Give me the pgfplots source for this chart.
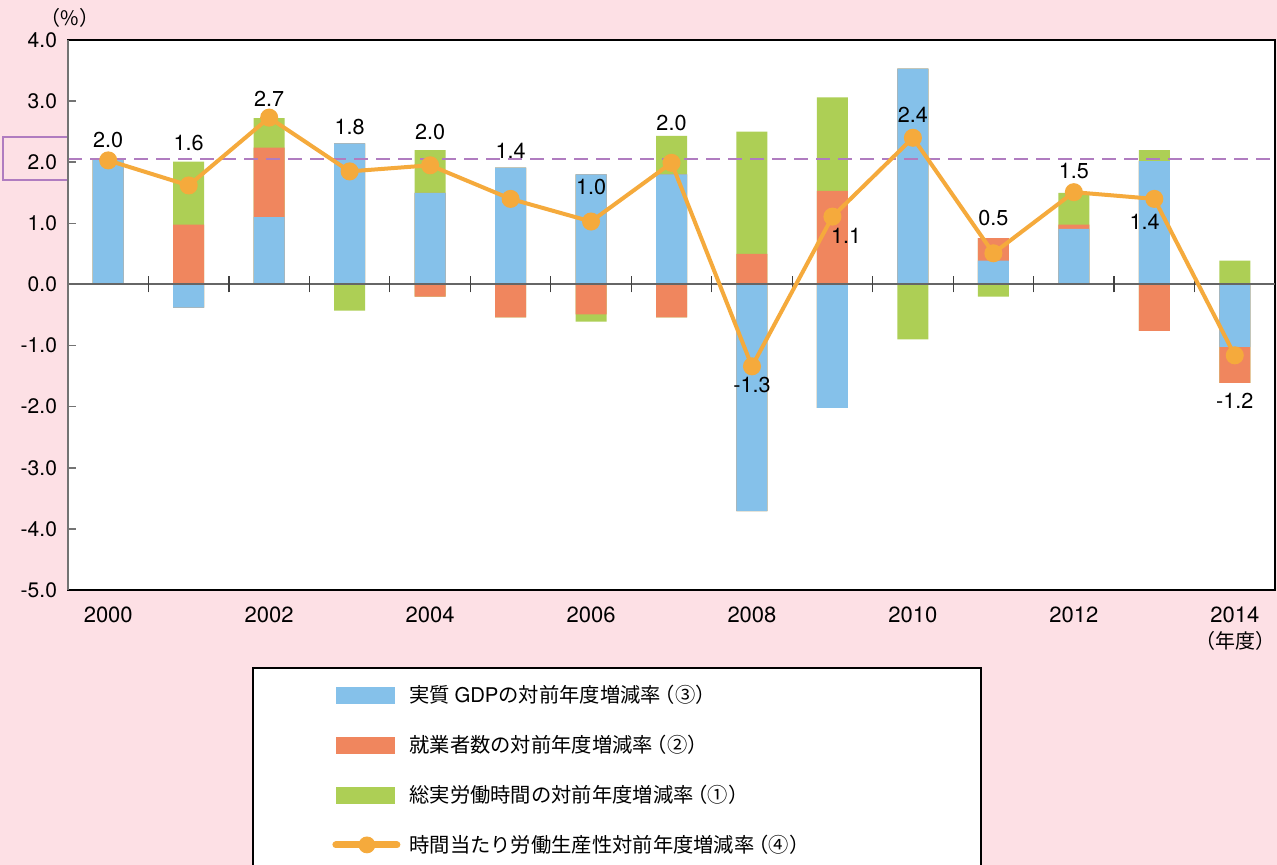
\documentclass[border=0pt]{standalone}
\usepackage{pgfplots}
\pgfplotsset{compat=1.18}
\usepackage{fontspec}
\setmainfont{TeX Gyre Heros}
\newfontfamily\cjk{Noto Sans CJK JP}
\definecolor{bg}{HTML}{FDE0E5}
\definecolor{cB}{HTML}{85C1EA}
\definecolor{cO}{HTML}{F0865E}
\definecolor{cG}{HTML}{ADCF55}
\definecolor{cL}{HTML}{F5AA3C}
\definecolor{cP}{HTML}{B07CC0}
\newcommand{\lp}{\kern-0.3em（}
\begin{document}
\begin{tikzpicture}
\useasboundingbox (0,0) rectangle (638.5pt,432.5pt);
\fill[bg] (0,0) rectangle (638.5pt,432.5pt);
% legend box
\fill[white] (126.5pt,-2pt) rectangle (490.5pt,98.5pt);
\draw[black, line width=0.6pt] (126.5pt,-2pt) -- (126.5pt,98.5pt) -- (490.5pt,98.5pt) -- (490.5pt,-2pt);
% purple box around 2.0
\draw[cP, line width=1pt] (1.5pt,342.5pt) rectangle (34pt,364pt);
\node[font=\cjk\fontsize{10}{12}\selectfont] at (35pt,423.75pt) {（\%）};
\node[font=\cjk\fontsize{10}{12}\selectfont] at (617.75pt,112pt) {（年度）};
\begin{axis}[
  at={(34pt,137.5pt)}, anchor=south west,
  scale only axis, width=603.5pt, height=275pt,
  xmin=-0.5, xmax=14.5, ymin=-5, ymax=4,
  clip=false,
  axis background/.style={fill=white},
  axis line style={black, line width=0.6pt},
  xtick={0,2,...,14},
  xticklabels={2000,2002,2004,2006,2008,2010,2012,2014},
  xtick style={draw=none},
  xticklabel style={font=\fontsize{11}{13}\selectfont, yshift=-5pt},
  ytick={-5,-4,...,4},
  yticklabels={-5.0,-4.0,-3.0,-2.0,-1.0,0.0,1.0,2.0,3.0,4.0},
  ytick style={black!55, line width=0.8pt},
  yticklabel style={font=\fontsize{10.5}{12}\selectfont, xshift=-2pt},
  tick align=inside, major tick length=4pt,
  ytick pos=left, xtick pos=bottom,
  legend style={at={(axis description cs:0.21872,-0.17273)}, anchor=north west,
    draw=none, fill=none, inner sep=0pt, row sep=14.7pt,
    font=\cjk\fontsize{10.15}{12}\selectfont,
    nodes={inner xsep=4.5pt, inner ysep=0pt}},
  legend cell align=left,
]
% legend images
\addlegendimage{legend image code/.code={\fill[cB] (0pt,-4pt) rectangle (28.5pt,4pt);}}
\addlegendentry{実質 {\rmfamily GDP}の対前年度増減率\lp ③）}
\addlegendimage{legend image code/.code={\fill[cO] (0pt,-4pt) rectangle (28.5pt,4pt);}}
\addlegendentry{就業者数の対前年度増減率\lp ②）}
\addlegendimage{legend image code/.code={\fill[cG] (0pt,-4pt) rectangle (28.5pt,4pt);}}
\addlegendentry{総実労働時間の対前年度増減率\lp ①）}
\addlegendimage{legend image code/.code={\draw[cL, line width=3.5pt, line cap=round] (-0.5pt,0pt) -- (30pt,0pt); \fill[cL] (15pt,0pt) circle (4pt);}}
\addlegendentry{時間当たり労働生産性対前年度増減率\lp ④）}

% positive stacks (outer edges, drawn outermost first)
\addplot[ybar, bar width=0.385, bar shift=0pt, fill=cG, draw=none, forget plot] coordinates {
 (0,2.05) (1,2.01) (2,2.72) (3,2.31) (4,2.20) (5,1.91) (6,1.80) (7,2.43)
 (8,2.50) (9,3.06) (10,3.53) (11,0.76) (12,1.50) (13,2.20) (14,0.39)};
\addplot[ybar, bar width=0.385, bar shift=0pt, fill=cO, draw=none, forget plot] coordinates {
 (0,2.05) (1,0.98) (2,2.24) (3,2.31) (4,1.50) (5,1.91) (6,1.80) (7,1.80)
 (8,0.50) (9,1.53) (10,3.53) (11,0.76) (12,0.98) (13,2.02)};
\addplot[ybar, bar width=0.385, bar shift=0pt, fill=cB, draw=none, forget plot] coordinates {
 (0,2.05) (2,1.10) (3,2.31) (4,1.50) (5,1.91) (6,1.80) (7,1.80)
 (10,3.53) (11,0.39) (12,0.91) (13,2.02)};
% negative stacks
\addplot[ybar, bar width=0.385, bar shift=0pt, fill=cG, draw=none, forget plot] coordinates {
 (1,-0.38) (3,-0.43) (4,-0.20) (5,-0.54) (6,-0.61) (7,-0.54) (8,-3.71)
 (9,-2.02) (10,-0.90) (11,-0.20) (13,-0.76) (14,-1.61)};
\addplot[ybar, bar width=0.385, bar shift=0pt, fill=cO, draw=none, forget plot] coordinates {
 (1,-0.38) (4,-0.20) (5,-0.54) (6,-0.49) (7,-0.54) (8,-3.71)
 (9,-2.02) (13,-0.76) (14,-1.61)};
\addplot[ybar, bar width=0.385, bar shift=0pt, fill=cB, draw=none, forget plot] coordinates {
 (1,-0.38) (8,-3.71) (9,-2.02) (14,-1.02)};

% reference dashed line, zero line, boundary ticks
\draw[cP, line width=1pt, dash pattern=on 7pt off 4pt] (axis cs:-0.5,2.06) -- (axis cs:14.5,2.06);
\draw[black!60, line width=1pt] (axis cs:-0.5,0) -- (axis cs:14.5,0);
\pgfplotsinvokeforeach{0.5,1.5,2.5,3.5,4.5,5.5,6.5,7.5,8.5,9.5,10.5,11.5,12.5,13.5}{
  \draw[black!75, line width=0.6pt] (axis cs:#1,0) ++(0pt,-4pt) -- ++(0pt,8pt);
}
\draw[black!55, line width=1pt] (rel axis cs:0,0) -- (rel axis cs:0,1);

% productivity line
\addplot[cL, line width=2pt, mark=*, mark size=3.5pt, mark options={fill=cL, draw=cL}, forget plot] coordinates {
 (0,2.03) (1,1.62) (2,2.73) (3,1.85) (4,1.95) (5,1.40) (6,1.03) (7,1.99)
 (8,-1.34) (9,1.11) (10,2.40) (11,0.51) (12,1.51) (13,1.40) (14,-1.16)};

% value labels
\begin{scope}[every node/.style={font=\fontsize{10.8}{12}\selectfont}]
\node at (axis cs:0,2.36) {2.0};
\node at (axis cs:1,2.31) {1.6};
\node at (axis cs:2,3.04) {2.7};
\node at (axis cs:3,2.58) {1.8};
\node at (axis cs:4,2.50) {2.0};
\node at (axis cs:5,2.19) {1.4};
\node at (axis cs:6,1.60) {1.0};
\node at (axis cs:7,2.65) {2.0};
\node at (axis cs:8,-1.65) {-1.3};
\node at (axis cs:9.17,0.79) {1.1};
\node at (axis cs:10,2.78) {2.4};
\node at (axis cs:11,1.08) {0.5};
\node at (axis cs:12,1.85) {1.5};
\node at (axis cs:12.88,1.03) {1.4};
\node at (axis cs:14,-1.91) {-1.2};
\end{scope}
\end{axis}
\end{tikzpicture}
\end{document}
